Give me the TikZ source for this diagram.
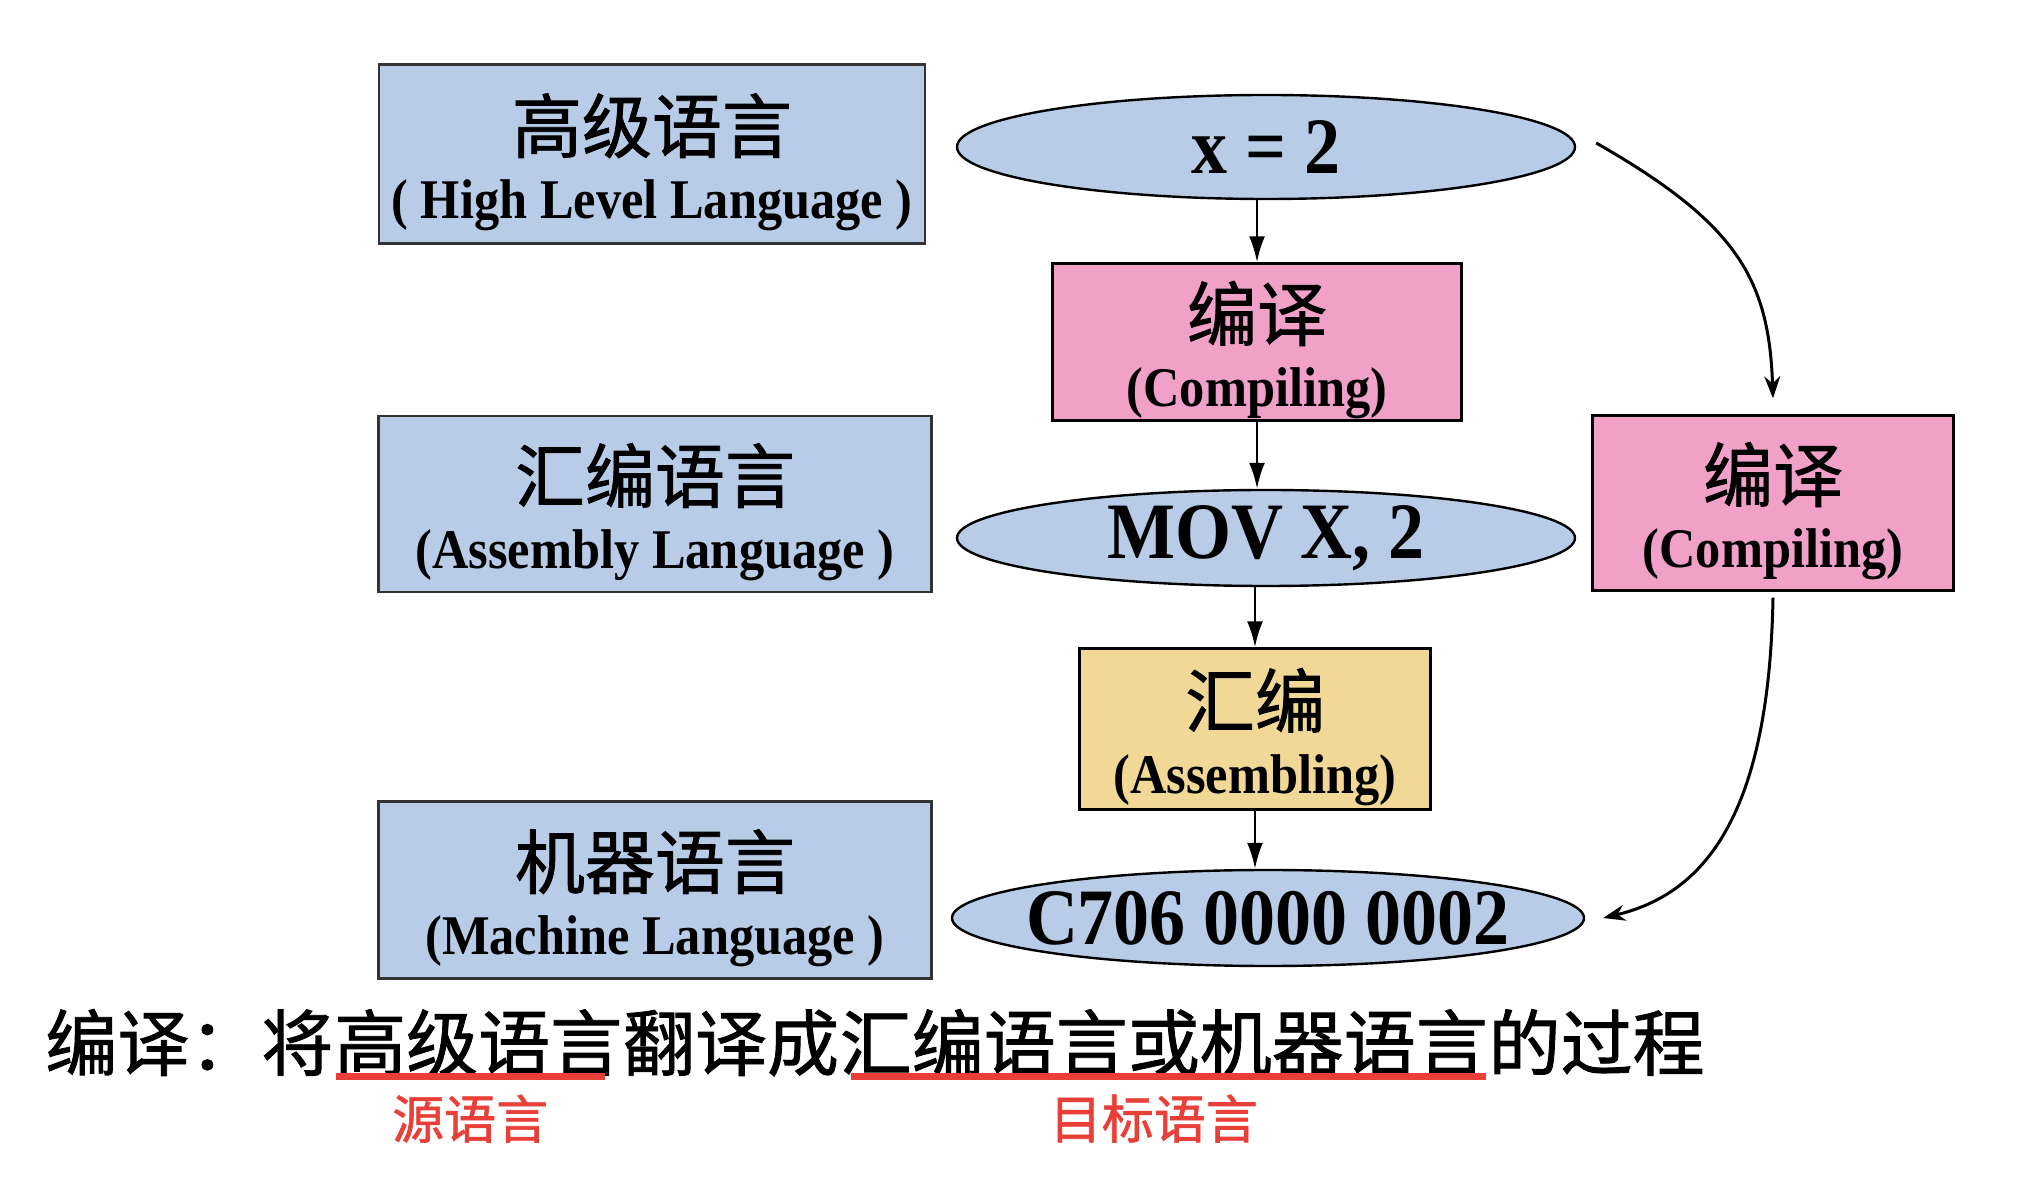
\documentclass[tikz,border=0pt]{standalone}
\usepackage{fontspec}
\setmainfont{Liberation Serif}[FakeStretch=0.9]
\newfontfamily\cjk{Noto Sans CJK SC}[FakeBold=1.2]
\usetikzlibrary{shapes.geometric, arrows.meta, positioning, calc}

\definecolor{langblue}{RGB}{184,204,232}
\definecolor{compink}{RGB}{241,160,200}
\definecolor{asmyellow}{RGB}{242,216,150}
\definecolor{markred}{RGB}{232,64,56}

\newcommand{\twolines}[2]{\rule{0pt}{37.5pt}{\cjk\fontsize{35}{33}\selectfont #1}\\{\bfseries #2}}

\begin{document}
\begin{tikzpicture}[
    x=0.5pt, y=-0.5pt,
    every node/.style={font=\fontsize{28}{33}\selectfont},
    langbox/.style={
        rectangle,
        draw=black!80,
        line width=1.2pt,
        fill=langblue,
        align=center,
        inner sep=0pt
    },
    codeform/.style={
        ellipse,
        draw=black,
        line width=1.2pt,
        fill=langblue,
        inner sep=0pt,
        font=\fontsize{40}{44}\selectfont\bfseries
    },
    stepbox/.style={
        rectangle,
        draw=black,
        line width=1.2pt,
        align=center,
        inner sep=0pt
    },
    summary/.style={
        inner sep=0pt,
        font=\cjk\fontsize{36}{40}\selectfont
    },
    tag/.style={
        inner sep=0pt,
        text=markred,
        font=\cjk\fontsize{26}{30}\selectfont
    },
    arrow/.style={
        line width=1.3pt,
        -{Latex[length=13pt,width=8pt]}
    },
    curvearrow/.style={
        line width=1.5pt,
        -{Stealth[length=11pt,width=8pt]}
    },
    redline/.style={
        line width=3.5pt,
        draw=markred
    }
]
\useasboundingbox (0,0) rectangle (2036,1186);

% Language levels (left column)
\node (high) [langbox, minimum width=273pt, minimum height=89.5pt] at (652,154) {\twolines{高级语言}{( High Level Language )}};
\node (asm) [langbox, minimum width=276.5pt, minimum height=88pt] at (655,504) {\twolines{汇编语言}{(Assembly Language )}};
\node (mach) [langbox, minimum width=276.5pt, minimum height=88.5pt] at (655,890) {\twolines{机器语言}{(Machine Language )}};

% Translation chain (middle column)
\node (src) [codeform, minimum width=309pt, minimum height=52pt] at (1266,147) {x = 2};
\node (comp) [stepbox, fill=compink, minimum width=204.5pt, minimum height=78.5pt] at (1257,342) {\twolines{编译}{(Compiling)}};
\node (mov) [codeform, minimum width=309pt, minimum height=48pt] at (1266,538) {MOV X, 2};
\node (assem) [stepbox, fill=asmyellow, minimum width=175.5pt, minimum height=80.5pt] at (1255,729) {\twolines{汇编}{(Assembling)}};
\node (code) [codeform, inner xsep=-10pt, minimum width=316pt, minimum height=48pt] at (1268,918) {C706 0000 0002};

% Direct compiling (right column)
\node (rcomp) [stepbox, fill=compink, minimum width=180.5pt, minimum height=87.5pt] at (1773,503) {\twolines{编译}{(Compiling)}};

% Arrows - chain
\draw [arrow] (src.south -| comp) -- (comp);
\draw [arrow] (comp) -- (comp |- mov.north);
\draw [arrow] (mov.south -| assem) -- (assem);
\draw [arrow] (assem) -- (assem |- code.north);

% Arrows - direct path
\draw [curvearrow] ([xshift=10pt,yshift=2pt]src.east) .. controls +(70pt,-40pt) and +(-2pt,60pt) .. ([yshift=8pt]rcomp.north);
\draw [curvearrow] ([yshift=-3pt]rcomp.south) .. controls +(-2pt,-110pt) and +(50pt,12pt) .. ([xshift=9pt]code.east);

% Definition line
\node (s1) [summary, anchor=base west] at (45,1070) {编译：将};
\node (s2) [summary, base right=0pt of s1] {高级语言};
\node (s3) [summary, base right=0pt of s2] {翻译成};
\node (s4) [summary, base right=0pt of s3] {汇编语言或机器语言};
\node (s5) [summary, base right=0pt of s4] {的过程};

% Source / target marks
\draw [redline] ([xshift=1pt]s2.south west) -- ([xshift=-9pt]s2.south east);
\draw [redline] ([xshift=6pt]s4.south west) -- ([xshift=-1pt]s4.south east);
\node (srclang) [tag, below=9pt of s2, xshift=-4pt] {源语言};
\node (tgtlang) [tag, below=9pt of s4, xshift=-5pt] {目标语言};

\end{tikzpicture}
\end{document}
